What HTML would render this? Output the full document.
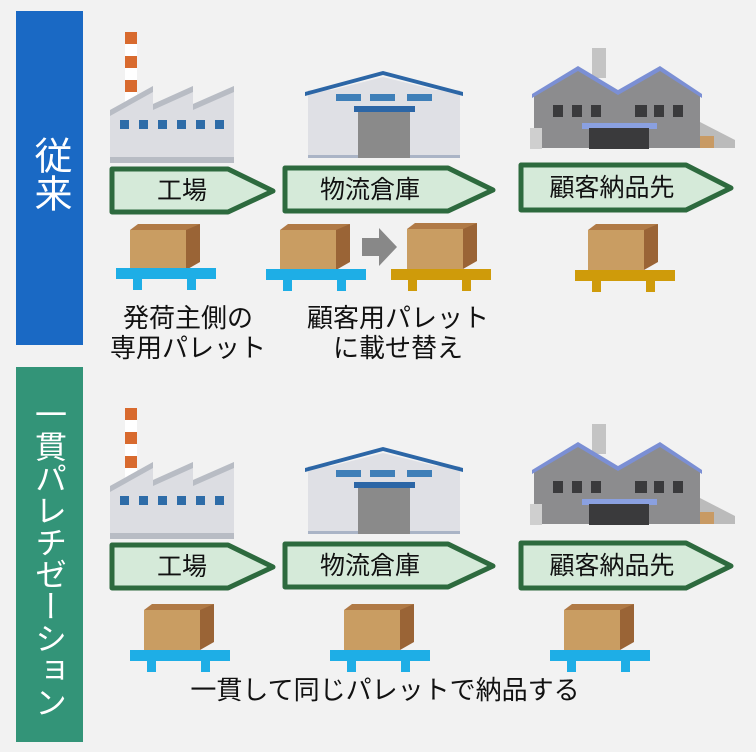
<!DOCTYPE html>
<html><head><meta charset="utf-8"><style>
html,body{margin:0;padding:0;background:#f2f2f2;}
body{width:756px;height:752px;position:relative;overflow:hidden;font-family:"Liberation Sans","Noto Sans CJK JP",sans-serif;}
.t{position:absolute;font-size:25px;color:#111;text-align:center;line-height:30px;white-space:nowrap;}
.v{position:absolute;color:#fff;writing-mode:vertical-rl;font-size:32px;line-height:66px;width:66px;text-align:center;}
</style></head><body>
<svg width="756" height="752" style="position:absolute;left:0;top:0">
<defs>
<g id="fac">
 <rect x="125" y="32" width="12" height="70" fill="#fff"/>
 <rect x="125" y="32" width="12" height="12" fill="#d86a2e"/>
 <rect x="125" y="56" width="12" height="12" fill="#d86a2e"/>
 <rect x="125" y="80" width="12" height="12" fill="#d86a2e"/>
 <polygon points="110,110 153,86 153,104 193,86 193,104 234,86 234,163 110,163" fill="#dcdde2"/>
 <polygon points="110,110 153,86 153,92 110,116" fill="#b8bcc4"/>
 <polygon points="153,104 193,86 193,92 153,110" fill="#b8bcc4"/>
 <polygon points="193,104 234,86 234,92 193,110" fill="#b8bcc4"/>
 <rect x="110" y="157" width="124" height="6" fill="#b8bcc4"/>
 <g fill="#2e6ca8"><rect x="120" y="120" width="9" height="9"/><rect x="139" y="120" width="9" height="9"/><rect x="158" y="120" width="9" height="9"/><rect x="177" y="120" width="9" height="9"/><rect x="196" y="120" width="9" height="9"/><rect x="215" y="120" width="9" height="9"/></g>
</g>
<g id="wh">
 <rect x="308" y="90" width="152" height="68" fill="#dfe0e5"/>
 <polygon points="305,92 383,71 463,92 463,96 383,75 305,96" fill="#2c66a6"/>
 <polygon points="308,96 383,77 460,96" fill="#dfe0e5"/>
 <g fill="#3f7fb8"><rect x="336" y="94" width="25" height="7"/><rect x="370" y="94" width="25" height="7"/><rect x="407" y="94" width="25" height="7"/></g>
 <rect x="354" y="106" width="61" height="6" fill="#2c66a6"/>
 <rect x="358" y="112" width="52" height="46" fill="#8a8a8a"/>
 <rect x="308" y="155" width="50" height="3" fill="#aab4c6"/><rect x="410" y="155" width="50" height="3" fill="#aab4c6"/>
</g>
<g id="cus">
 <rect x="592" y="48" width="14" height="30" fill="#c4c4c4"/>
 <polygon points="534,95 578,68 618,92 660,68 700,95 700,148 534,148" fill="#8c8c8e"/>
 <polygon points="532,94 578,66 618,90 660,66 702,94 702,98 660,71 618,95 578,71 532,98" fill="#7b8fd4"/>
 <g fill="#3a3a3c"><rect x="553" y="105" width="10" height="12"/><rect x="572" y="105" width="10" height="12"/><rect x="591" y="105" width="10" height="12"/><rect x="635" y="105" width="12" height="12"/><rect x="654" y="105" width="10" height="12"/><rect x="673" y="105" width="10" height="12"/></g>
 <rect x="582" y="123" width="75" height="6" fill="#8aa0e0"/>
 <rect x="589" y="128" width="60" height="21" fill="#3a3a3c"/>
 <rect x="530" y="128" width="12" height="21" fill="#cfcfcf"/>
 <polygon points="700,122 735,140 735,148 700,148" fill="#bbb"/>
 <rect x="700" y="136" width="14" height="12" fill="#c89a64"/>
</g>
<g id="box">
 <polygon points="0,6 8,0 70,0 62,6" fill="#b07a46"/>
 <rect x="0" y="6" width="56" height="40" fill="#c99d62"/>
 <polygon points="56,6 70,0 70,38 56,46" fill="#9a6436"/>
</g>
</defs>
<rect x="16" y="11" width="67" height="334" fill="#1a69c4"/>
<rect x="16" y="367" width="67" height="375" fill="#339478"/>

<use href="#fac"/><use href="#wh"/><use href="#cus"/>
<use href="#fac" y="376"/><use href="#wh" y="376"/><use href="#cus" y="376"/>

<g fill="#d5ead9" stroke="#2d6a3e" stroke-width="5" stroke-linejoin="round">
 <polygon points="112,169 228,169 273,191 228,212 112,212"/>
 <polygon points="285,168 448,168 493,190 448,211 285,211"/>
 <polygon points="521,165 686,165 731,188 686,210 521,210"/>
 <polygon points="112,545 228,545 273,567 228,588 112,588"/>
 <polygon points="285,544 448,544 493,566 448,587 285,587"/>
 <polygon points="521,543 686,543 731,566 686,588 521,588"/>
</g>

<use href="#box" x="130" y="224"/>
<rect x="116" y="268" width="100" height="11" fill="#1eaee6"/><rect x="133" y="279" width="9" height="11" fill="#1eaee6"/><rect x="187" y="279" width="9" height="11" fill="#1eaee6"/>
<use href="#box" x="280" y="224"/>
<rect x="266" y="269" width="100" height="11" fill="#1eaee6"/><rect x="283" y="280" width="9" height="11" fill="#1eaee6"/><rect x="337" y="280" width="9" height="11" fill="#1eaee6"/>
<polygon points="362,238 379,238 379,228 397,247 379,266 379,256 362,256" fill="#888"/>
<use href="#box" x="407" y="223"/>
<rect x="391" y="269" width="100" height="11" fill="#cf9b0a"/><rect x="408" y="280" width="9" height="11" fill="#cf9b0a"/><rect x="462" y="280" width="9" height="11" fill="#cf9b0a"/>
<use href="#box" x="588" y="224"/>
<rect x="575" y="270" width="100" height="11" fill="#cf9b0a"/><rect x="592" y="281" width="9" height="11" fill="#cf9b0a"/><rect x="646" y="281" width="9" height="11" fill="#cf9b0a"/>

<use href="#box" x="144" y="604"/>
<rect x="130" y="650" width="100" height="11" fill="#1eaee6"/><rect x="147" y="661" width="9" height="11" fill="#1eaee6"/><rect x="201" y="661" width="9" height="11" fill="#1eaee6"/>
<use href="#box" x="344" y="604"/>
<rect x="330" y="650" width="100" height="11" fill="#1eaee6"/><rect x="347" y="661" width="9" height="11" fill="#1eaee6"/><rect x="401" y="661" width="9" height="11" fill="#1eaee6"/>
<use href="#box" x="564" y="604"/>
<rect x="550" y="650" width="100" height="11" fill="#1eaee6"/><rect x="567" y="661" width="9" height="11" fill="#1eaee6"/><rect x="621" y="661" width="9" height="11" fill="#1eaee6"/>
</svg>

<div class="v" style="left:16px;top:136px;font-size:38px;">従来</div>
<div class="v" style="left:16px;top:398px;font-size:32px;">一貫パレチゼーション</div>

<div class="t" style="left:112px;top:176px;width:140px;">工場</div>
<div class="t" style="left:285px;top:175px;width:170px;">物流倉庫</div>
<div class="t" style="left:521px;top:173px;width:182px;">顧客納品先</div>
<div class="t" style="left:112px;top:552px;width:140px;">工場</div>
<div class="t" style="left:285px;top:551px;width:170px;">物流倉庫</div>
<div class="t" style="left:521px;top:551px;width:182px;">顧客納品先</div>

<div class="t" style="left:88px;top:303px;width:200px;font-size:26px;">発荷主側の<br>専用パレット</div>
<div class="t" style="left:298px;top:303px;width:200px;font-size:26px;">顧客用パレット<br>に載せ替え</div>
<div class="t" style="left:135px;top:675px;width:500px;font-size:26px;">一貫して同じパレットで納品する</div>
</body></html>
